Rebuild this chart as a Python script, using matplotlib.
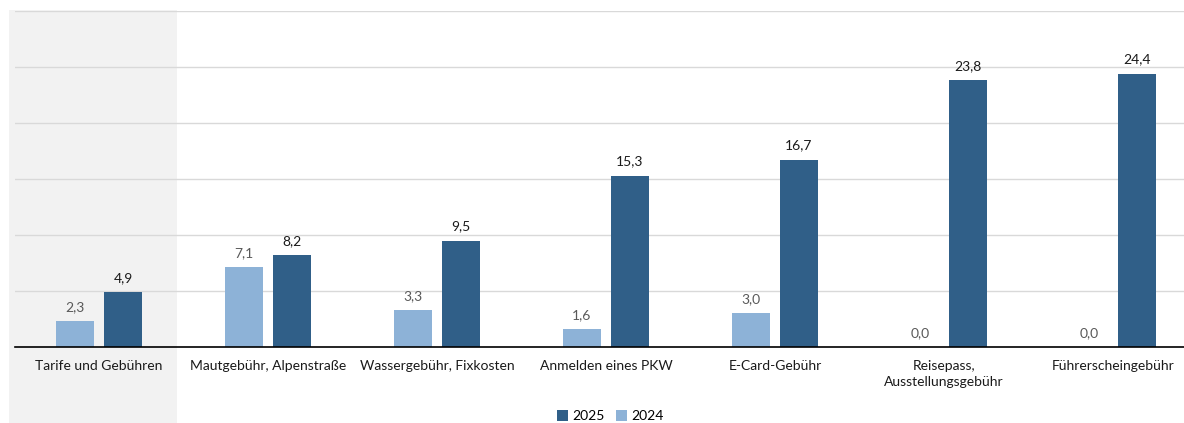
import numpy as np
import matplotlib.pyplot as plt
from matplotlib.patches import Rectangle

# data
categories = ["Tarife und Gebühren", "Mautgebühr, Alpenstraße", "Wassergebühr, Fixkosten",
              "Anmelden eines PKW", "E-Card-Gebühr", "Reisepass,\nAusstellungsgebühr",
              "Führerscheingebühr"]
values_2024 = [2.3, 7.1, 3.3, 1.6, 3.0, 0.0, 0.0]
values_2025 = [4.9, 8.2, 9.5, 15.3, 16.7, 23.8, 24.4]

c2025 = "#305F88"
c2024 = "#8DB2D7"

plt.rcParams['font.family'] = ['Lato', 'DejaVu Sans']

fig = plt.figure(figsize=(11.84, 4.23), dpi=100)
# axes runs slightly past the right edge, like the original
ax = fig.add_axes([14.5/1184, 1 - 347/423, 1183/1184, 336/423])
ax.set_facecolor("none")

# gray band behind first category
fig.patches.append(Rectangle((9/1184, 0), 168/1184, 1 - 10/423, transform=fig.transFigure,
                             facecolor="#F2F2F2", edgecolor="none", zorder=-10))

x = np.arange(len(categories))
w = 0.225
off = 0.142
b24 = ax.bar(x - off, values_2024, w, color=c2024, label="2024", zorder=3)
b25 = ax.bar(x + off, values_2025, w, color=c2025, label="2025", zorder=3)

for rect, v in zip(b24, values_2024):
    ax.annotate(f"{v:.1f}".replace(".", ","), (rect.get_x() + rect.get_width()/2, v),
                xytext=(0, 6), textcoords="offset points", ha="center", va="bottom",
                fontsize=10, color="#595959")
for rect, v in zip(b25, values_2025):
    ax.annotate(f"{v:.1f}".replace(".", ","), (rect.get_x() + rect.get_width()/2, v),
                xytext=(0, 6), textcoords="offset points", ha="center", va="bottom",
                fontsize=10, color="#1a1a1a")

ax.set_xlim(-0.5, len(categories) - 0.5)
ax.set_ylim(0, 30)
ax.set_yticks(np.arange(0, 31, 5))
ax.set_yticklabels([])
ax.tick_params(axis="y", length=0)
ax.tick_params(axis="x", length=0, pad=9, labelsize=10, labelcolor="#1a1a1a")
ax.set_xticks(x)
ax.set_xticklabels(categories, linespacing=1.5, va="top")
ax.grid(axis="y", color="#D9D9D9", linewidth=1, zorder=0)
for s in ["top", "right", "left"]:
    ax.spines[s].set_visible(False)
ax.spines["bottom"].set_color("black")
ax.spines["bottom"].set_linewidth(1.2)
ax.spines["bottom"].set_zorder(4)

handles = [b25, b24]
fig.legend(handles, ["2025", "2024"], loc="center", bbox_to_anchor=(610/1184, 1 - 416/423),
           ncol=2, frameon=False, fontsize=10, handlelength=0.8, handleheight=0.8,
           handletextpad=0.3, columnspacing=0.8)

fig.savefig("out.png", dpi=100)
